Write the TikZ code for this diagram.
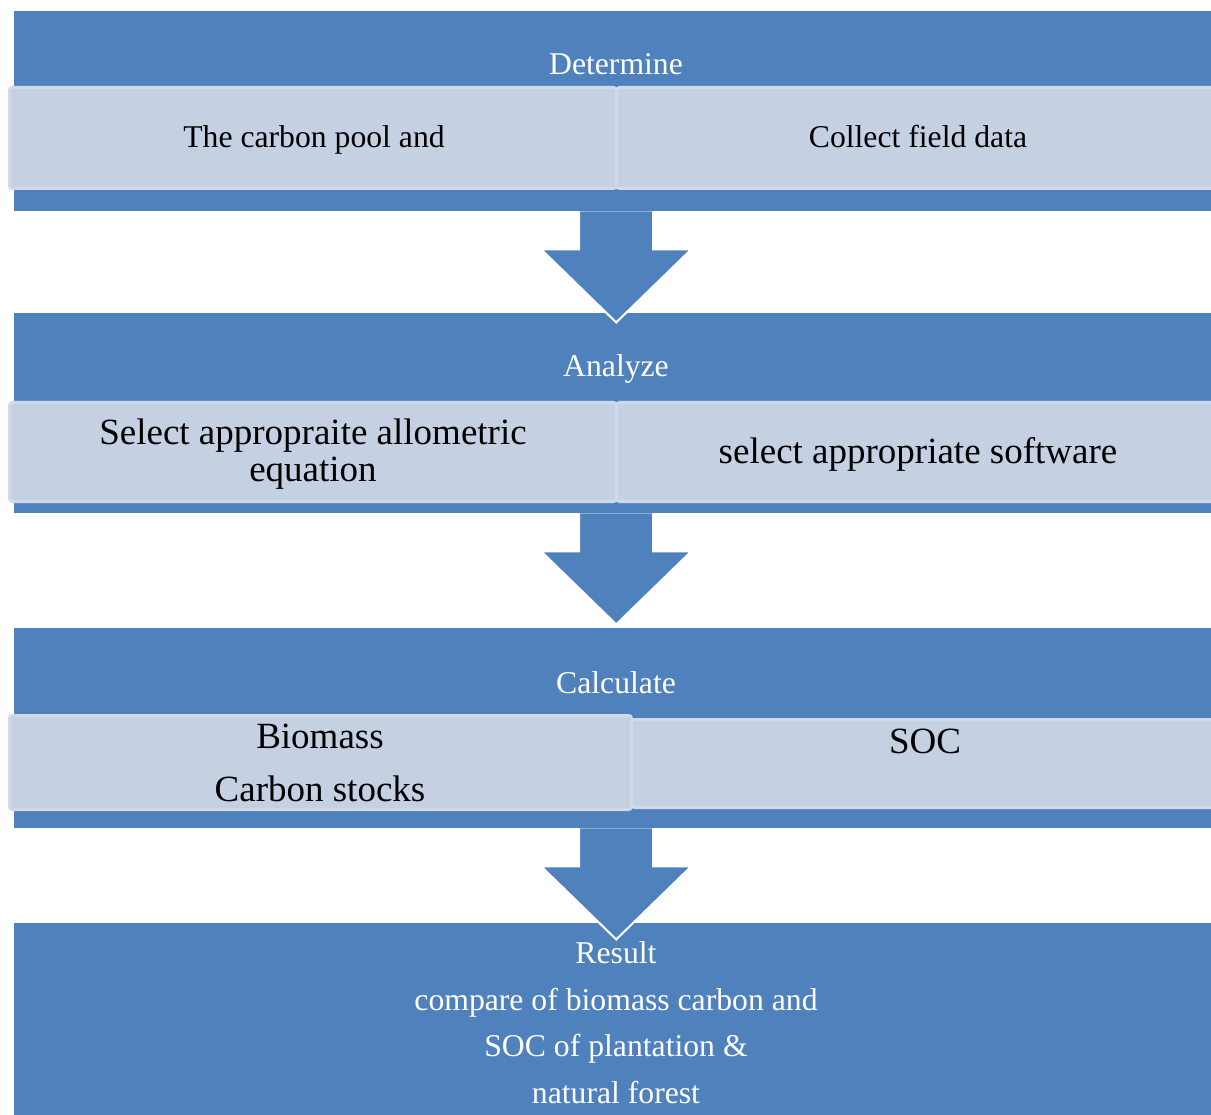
\documentclass[tikz,border=0pt]{standalone}
\usepackage{fontspec}
\setmainfont{Liberation Serif}
\usetikzlibrary{calc}
\definecolor{hblue}{HTML}{4F81BD}
\definecolor{lfill}{HTML}{C5D0E3}
\definecolor{lborder}{HTML}{D1D9E9}
\tikzset{
  hdr/.style={rectangle, fill=hblue, draw=none, inner sep=0pt, anchor=north west, minimum width=1204, minimum height=200},
  lbox/.style={rectangle, fill=lfill, draw=lborder, line width=3pt, rounded corners=3pt, inner sep=0pt, anchor=north west},
  htxt/.style={text=white, inner sep=0pt, anchor=base, align=center, font=\fontsize{31.7}{46.5}\selectfont},
  btxt/.style={text=black, inner sep=0pt, anchor=base, align=center, font=\fontsize{31.7}{46.5}\selectfont},
  bigtxt/.style={text=black, inner sep=0pt, anchor=base, align=center, font=\fontsize{37}{37}\selectfont},
  barrow/.style={fill=hblue, draw=white, line width=2pt, line join=miter}
}
\begin{document}
\begin{tikzpicture}[x=1pt, y=-1pt]
\useasboundingbox (0,0) rectangle (1211,1115);
% header bands
\node[hdr] (h1) at (14,11) {};
\node[hdr] (h2) at (14,313) {};
\node[hdr] (h3) at (14,628) {};
\node[hdr, minimum height=200] (h4) at (14,923) {};
% light boxes
\node[lbox, minimum width=600, minimum height=101] (b1r) at (615,86) {};
\node[lbox, minimum width=607, minimum height=101] (b1l) at (8,86) {};
\node[lbox, minimum width=600, minimum height=99] (b2r) at (615,401) {};
\node[lbox, minimum width=607, minimum height=99] (b2l) at (8,401) {};
\node[lbox, minimum width=585, minimum height=88] (b3r) at (630,718) {};
\node[lbox, minimum width=622, minimum height=94] (b3l) at (8,714) {};
% block arrows
\path[barrow] ($(h1.south)+(-37,0)$) -- ++(0,38) -- ++(-38,0) -- ++(75,73) coordinate (a1t) -- ++(75,-73) -- ++(-38,0) -- ++(0,-38);
\path[barrow] ($(h2.south)+(-37,0)$) -- ++(0,38) -- ++(-38,0) -- ++(75,73) coordinate (a2t) -- ++(75,-73) -- ++(-38,0) -- ++(0,-38);
\path[barrow] ($(h3.south)+(-37,0)$) -- ++(0,38) -- ++(-38,0) -- ++(75,73) coordinate (a3t) -- ++(75,-73) -- ++(-38,0) -- ++(0,-38);
% header texts
\node[htxt] (t1) at (616,75) {Determine};
\node[htxt] (t2) at (616,377) {Analyze};
\node[htxt] (t3) at (616,693) {Calculate};
\node[htxt] (t4) at (616,1103) {Result\\compare of biomass carbon and\\SOC of plantation \&\\natural forest};
% box texts
\node[btxt] (x1l) at (314,148) {The carbon pool and};
\node[btxt] (x1r) at (918,148) {Collect field data};
\node[bigtxt] (x2l) at (313,481) {Select appropraite allometric\\equation};
\node[bigtxt] (x2r) at (918,463) {select appropriate software};
\node[bigtxt, font=\fontsize{37}{53}\selectfont] (x3l) at (320,801) {Biomass\\Carbon stocks};
\node[bigtxt] (x3r) at (925,753) {SOC};
\end{tikzpicture}
\end{document}
